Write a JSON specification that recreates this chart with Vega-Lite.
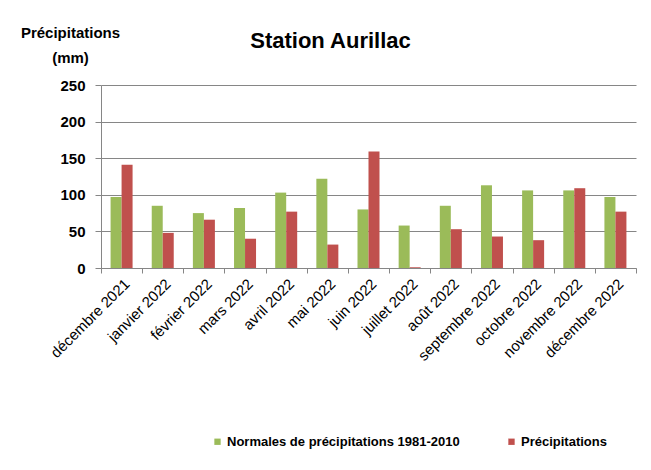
{
  "$schema": "https://vega.github.io/schema/vega-lite/v6.json",
  "width": 535,
  "height": 183,
  "autosize": "none",
  "padding": {"left": 101, "top": 85, "right": 15, "bottom": 202},
  "background": "white",
  "config": {"view": {"stroke": null}, "font": "Liberation Sans"},
  "title": {"text": "Station Aurillac", "font": "Liberation Sans", "fontSize": 22, "fontWeight": "bold", "color": "black", "anchor": "middle", "dx": -38, "dy": 32},
  "data": {"values": [
    {"mois": "décembre 2021", "serie": "Normales de précipitations 1981-2010", "valeur": 97},
    {"mois": "décembre 2021", "serie": "Précipitations", "valeur": 141},
    {"mois": "janvier 2022", "serie": "Normales de précipitations 1981-2010", "valeur": 85},
    {"mois": "janvier 2022", "serie": "Précipitations", "valeur": 48},
    {"mois": "février 2022", "serie": "Normales de précipitations 1981-2010", "valeur": 75},
    {"mois": "février 2022", "serie": "Précipitations", "valeur": 66},
    {"mois": "mars 2022", "serie": "Normales de précipitations 1981-2010", "valeur": 82},
    {"mois": "mars 2022", "serie": "Précipitations", "valeur": 40},
    {"mois": "avril 2022", "serie": "Normales de précipitations 1981-2010", "valeur": 103},
    {"mois": "avril 2022", "serie": "Précipitations", "valeur": 77},
    {"mois": "mai 2022", "serie": "Normales de précipitations 1981-2010", "valeur": 122},
    {"mois": "mai 2022", "serie": "Précipitations", "valeur": 32},
    {"mois": "juin 2022", "serie": "Normales de précipitations 1981-2010", "valeur": 80},
    {"mois": "juin 2022", "serie": "Précipitations", "valeur": 159},
    {"mois": "juillet 2022", "serie": "Normales de précipitations 1981-2010", "valeur": 58},
    {"mois": "juillet 2022", "serie": "Précipitations", "valeur": 1},
    {"mois": "août 2022", "serie": "Normales de précipitations 1981-2010", "valeur": 85},
    {"mois": "août 2022", "serie": "Précipitations", "valeur": 53},
    {"mois": "septembre 2022", "serie": "Normales de précipitations 1981-2010", "valeur": 113},
    {"mois": "septembre 2022", "serie": "Précipitations", "valeur": 43},
    {"mois": "octobre 2022", "serie": "Normales de précipitations 1981-2010", "valeur": 106},
    {"mois": "octobre 2022", "serie": "Précipitations", "valeur": 38},
    {"mois": "novembre 2022", "serie": "Normales de précipitations 1981-2010", "valeur": 106},
    {"mois": "novembre 2022", "serie": "Précipitations", "valeur": 109},
    {"mois": "décembre 2022", "serie": "Normales de précipitations 1981-2010", "valeur": 97},
    {"mois": "décembre 2022", "serie": "Précipitations", "valeur": 77}
  ]},
  "mark": {"type": "bar"},
  "encoding": {
    "x": {
      "field": "mois", "type": "nominal", "sort": null,
      "scale": {"paddingInner": 0, "paddingOuter": 0},
      "axis": {"title": null, "labelAngle": -45, "labelFontSize": 15, "labelColor": "black", "labelFont": "Liberation Sans",
        "tickBand": "extent", "tickSize": 5, "tickColor": "#868686", "domainColor": "#868686", "labelPadding": 3, "labelLimit": 200}
    },
    "xOffset": {"field": "serie", "type": "nominal", "scale": {"paddingInner": 0, "paddingOuter": 0.87}},
    "y": {
      "field": "valeur", "type": "quantitative",
      "scale": {"domain": [0, 250], "nice": false},
      "axis": {
        "title": ["Précipitations", "(mm)"], "titleAngle": 0, "titleAlign": "center", "titleBaseline": "alphabetic",
        "titleX": -31, "titleY": -48, "titleFont": "Liberation Sans", "titleFontSize": 15, "titleFontWeight": "bold", "titleColor": "black", "titleLineHeight": 25,
        "values": [0, 50, 100, 150, 200, 250],
        "labelFont": "Liberation Sans", "labelFontSize": 15, "labelFontWeight": "bold", "labelColor": "black", "labelPadding": 10,
        "tickSize": 6, "tickColor": "#868686", "domainColor": "#868686", "gridColor": "#868686", "gridWidth": 1
      }
    },
    "color": {
      "field": "serie", "type": "nominal",
      "scale": {"domain": ["Normales de précipitations 1981-2010", "Précipitations"], "range": ["#9BBB59", "#C0504D"]},
      "legend": {
        "title": null, "orient": "none", "legendX": 110, "legendY": 350, "direction": "horizontal",
        "symbolType": "square", "symbolSize": 40, "symbolStrokeWidth": 0,
        "labelFont": "Liberation Sans", "labelFontSize": 13, "labelFontWeight": "bold", "labelColor": "black", "labelLimit": 400,
        "labelOffset": 3, "columnPadding": 45
      }
    }
  }
}
